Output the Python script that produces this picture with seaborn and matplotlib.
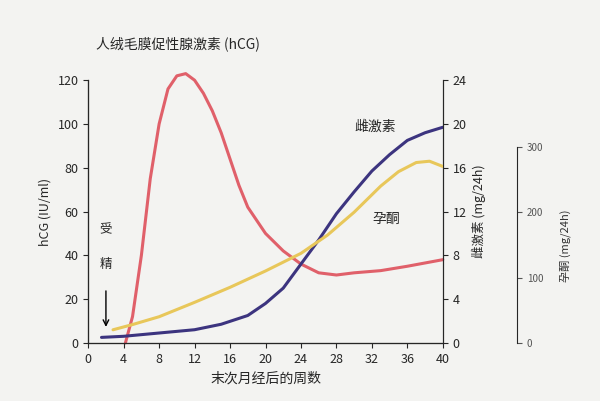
import numpy as np
import pandas as pd
import seaborn as sns
import matplotlib.pyplot as plt

sns.set_style('ticks')
plt.rcParams['font.family'] = ['Noto Sans CJK SC', 'DejaVu Sans']
plt.rcParams['axes.unicode_minus'] = False

# Values.
hcg_week = [4.2, 5, 6, 7, 8, 9, 10, 11, 12, 13, 14, 15, 16, 17, 18, 20, 22, 24, 26, 28, 30, 33, 36, 40]
hcg_val = [0, 12, 40, 75, 100, 116, 122, 123, 120, 114, 106, 96, 84, 72, 62, 50, 42, 36, 32, 31, 32, 33, 35, 38]
est_week = [1.5, 4, 8, 12, 15, 18, 20, 22, 24, 26, 28, 30, 32, 34, 36, 38, 40]
est_val = [0.5, 0.6, 0.9, 1.2, 1.7, 2.5, 3.6, 5.0, 7.2, 9.4, 11.8, 13.8, 15.7, 17.2, 18.5, 19.2, 19.7]
pro_week = [2.8, 5, 8, 12, 16, 20, 24, 27, 30, 33, 35, 37, 38.5, 40]
pro_val = [20, 28, 40, 62, 85, 110, 137, 165, 200, 240, 262, 276, 278, 270]

hcg = pd.DataFrame({'week': hcg_week, 'v': hcg_val})
est = pd.DataFrame({'week': est_week, 'v': est_val})
pro = pd.DataFrame({'week': pro_week, 'v': pro_val})

fig = plt.figure(figsize=(6, 4.01), dpi=100)
fig.patch.set_facecolor('#f3f3f1')
ax = fig.add_axes([0.147, 0.145, 0.591, 0.655])
ax.set_facecolor('none')

sns.lineplot(data=hcg, x='week', y='v', ax=ax, color='#e0606a', lw=2.2)
for ln in ax.lines:
    ln.set_clip_on(False)
ax.set_xlim(0, 40)
ax.set_ylim(0, 120)
ax.set_xticks(range(0, 41, 4))
ax.set_yticks(range(0, 121, 20))
ax.set_xlabel('末次月经后的周数', fontsize=10)
ax.set_ylabel('hCG (IU/ml)', fontsize=9)
ax.spines['top'].set_visible(False)

ax2 = ax.twinx()
sns.lineplot(data=est, x='week', y='v', ax=ax2, color='#3c347f', lw=2.2)
ax2.set_ylim(0, 24)
ax2.set_yticks(range(0, 25, 4))
ax2.set_ylabel('雌激素 (mg/24h)', fontsize=9)
ax2.spines['top'].set_visible(False)

ax3 = ax.twinx()
sns.lineplot(data=pro, x='week', y='v', ax=ax3, color='#e8c75a', lw=2.2)
ax3.set_ylim(0, 402)
ax3.spines['right'].set_position(('axes', 1.21))
ax3.spines['right'].set_bounds(0, 300)
ax3.spines['top'].set_visible(False)
ax3.set_yticks([0, 100, 200, 300])
ax3.tick_params(labelsize=7, colors='#555555')
ax3.set_ylabel('孕酮 (mg/24h)', fontsize=8, color='#333333')
ax3.yaxis.set_label_coords(1.33, 0.37)

for a in (ax, ax2):
    a.tick_params(labelsize=9)

ax.text(2, 50, '受', fontsize=9, ha='center')
ax.text(2, 34, '精', fontsize=9, ha='center')
ax.annotate('', xy=(2, 6), xytext=(2, 25),
            arrowprops=dict(arrowstyle='->', color='black', lw=1))
ax.text(30, 97, '雌激素', fontsize=10)
ax.text(32, 55, '孕酮', fontsize=10)
fig.text(0.16, 0.88, '人绒毛膜促性腺激素 (hCG)', fontsize=10)

fig.savefig('out.png', dpi=100)
